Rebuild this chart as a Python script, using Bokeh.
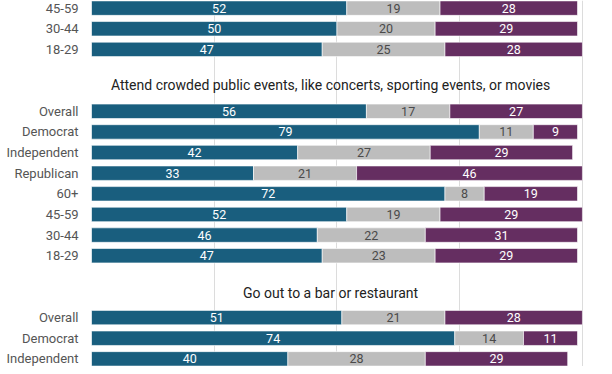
from bokeh.plotting import figure
from bokeh.models import ColumnDataSource, Range1d, FixedTicker
from bokeh.core.properties import value
from bokeh.embed import file_html
from bokeh.resources import INLINE

# ---- data ----
group_titles = ["Attend crowded public events, like concerts, sporting events, or movies",
                "Go out to a bar or restaurant"]

# rows in display order (top to bottom); None marks the gap rows
row_labels = ["45-59", "30-44", "18-29", None, None,
              "Overall", "Democrat", "Independent", "Republican", "60+", "45-59", "30-44", "18-29",
              None, None,
              "Overall", "Democrat", "Independent"]
blue_vals = [52, 50, 47, None, None, 56, 79, 42, 33, 72, 52, 46, 47, None, None, 51, 74, 40]
gray_vals = [19, 20, 25, None, None, 17, 11, 27, 21, 8, 19, 22, 23, None, None, 21, 14, 28]
purple_vals = [28, 29, 28, None, None, 27, 9, 29, 46, 19, 29, 31, 29, None, None, 28, 11, 29]
title_rows = [3.72, 13.8]
grid_ticks = [0, 25, 50, 75, 100]

BLUE = "#195E7E"
GRAY = "#BDBDBD"
PURPLE = "#652E61"
FONT = "Roboto"

ys, a, b, c = [], [], [], []
for i, lab in enumerate(row_labels):
    if lab is None:
        continue
    ys.append(i)
    a.append(blue_vals[i])
    b.append(gray_vals[i])
    c.append(purple_vals[i])

src = ColumnDataSource(dict(y=ys, a=a, b=b, c=c))

p = figure(width=604, height=366,
           x_range=Range1d(0, 104.5), y_range=Range1d(17.37, -0.37),
           output_backend="svg", toolbar_location=None,
           x_axis_location=None,
           min_border_left=91, min_border_right=0, min_border_top=0, min_border_bottom=0)
p.outline_line_color = None
p.background_fill_color = "white"

p.hbar_stack(["a", "b", "c"], y="y", height=0.7, color=[BLUE, GRAY, PURPLE],
             source=src, line_color="white", line_width=0.6)

# segment labels
def seg_src(vals, starts):
    return ColumnDataSource(dict(x=[s + v / 2 for s, v in zip(starts, vals)], y=ys,
                                 t=[str(v) for v in vals]))

starts_a = [0] * len(a)
starts_b = a
starts_c = [x + y for x, y in zip(a, b)]
for vals, starts, col in [(a, starts_a, "white"), (b, starts_b, "#4a4a4a"), (c, starts_c, "white")]:
    p.text(x="x", y="y", text="t", source=seg_src(vals, starts), text_align="center",
           text_baseline="middle", text_font=value(FONT), text_font_size="12.5px",
           text_color=col)

# group titles
tsrc = ColumnDataSource(dict(x=[48.7] * len(group_titles), y=title_rows, t=group_titles))
p.text(x="x", y="y", text="t", source=tsrc, text_align="center", text_baseline="middle",
       text_font=value(FONT), text_font_size="14px", text_color="#222222")

# grid
p.xgrid.ticker = FixedTicker(ticks=grid_ticks)
p.xgrid.grid_line_color = "#dcdcdc"
p.xgrid.grid_line_width = 1
p.ygrid.grid_line_color = None

# y axis with row labels
p.yaxis.ticker = FixedTicker(ticks=ys)
p.yaxis.major_label_overrides = {i: row_labels[i] for i in ys}
p.yaxis.axis_line_color = None
p.yaxis.major_tick_line_color = None
p.yaxis.minor_tick_line_color = None
p.yaxis.major_tick_out = 0
p.yaxis.major_tick_in = 0
p.yaxis.major_label_standoff = 13
p.yaxis.major_label_text_font = FONT
p.yaxis.major_label_text_font_size = "13px"
p.yaxis.major_label_text_color = "#555555"

open("out.html", "w").write(file_html(p, INLINE))
